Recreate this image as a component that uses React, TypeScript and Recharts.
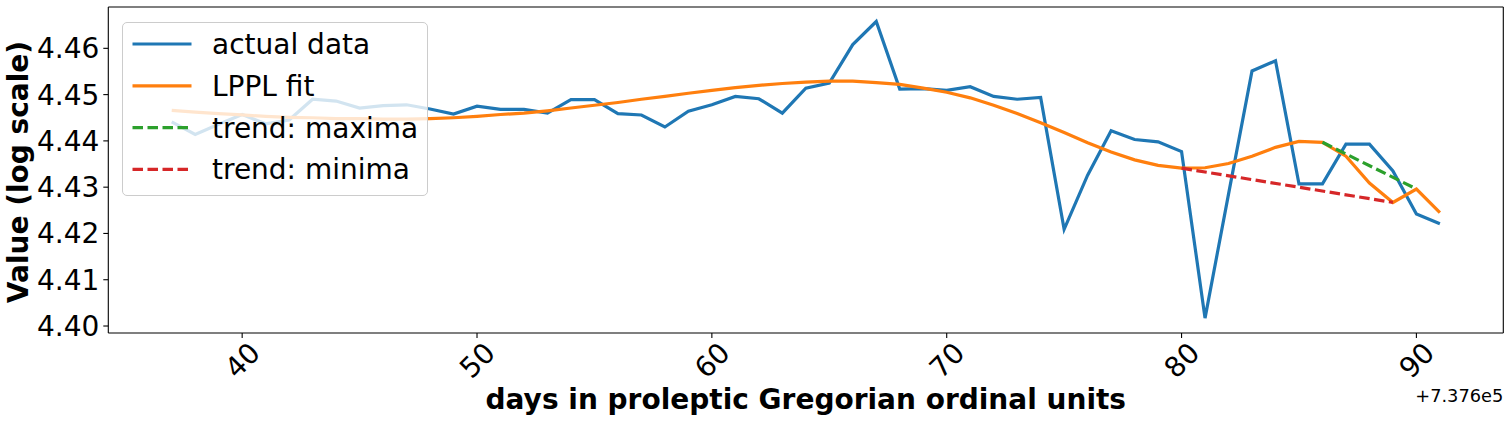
import React from 'react';
import { LineChart, Line, XAxis, YAxis, Legend, ReferenceLine } from 'recharts';

const FONT = "'DejaVu Sans', 'Liberation Sans', sans-serif";

// x values are days relative to the offset 7.376e5 (proleptic Gregorian ordinal)
const OFFSET_LABEL = '+7.376e5';
const days = [
  37, 38, 39, 40, 41, 42, 43, 44, 45, 46, 47, 48, 49, 50, 51, 52, 53, 54, 55,
  56, 57, 58, 59, 60, 61, 62, 63, 64, 65, 66, 67, 68, 69, 70, 71, 72, 73, 74,
  75, 76, 77, 78, 79, 80, 81, 82, 83, 84, 85, 86, 87, 88, 89, 90, 91,
];
const actualData = [
  4.4441, 4.4414, 4.4436, 4.4457, 4.4437, 4.4445, 4.449, 4.4486, 4.4471, 4.4476,
  4.4478, 4.4469, 4.4458, 4.4475, 4.4468, 4.4468, 4.446, 4.4489, 4.4489, 4.4459,
  4.4456, 4.443, 4.4464, 4.4478, 4.4496, 4.4491, 4.446, 4.4514, 4.4525, 4.4608,
  4.4658, 4.4512, 4.4513, 4.4509, 4.4517, 4.4496, 4.449, 4.4494, 4.4209, 4.4326,
  4.4422, 4.4403, 4.4398, 4.4377, 4.4017, 4.4285, 4.4551, 4.4573, 4.4307, 4.4307,
  4.4393, 4.4393, 4.4335, 4.4242, 4.4221,
];
const lpplFit = [
  4.4466, 4.4462, 4.4459, 4.4456, 4.4453, 4.4451, 4.445, 4.4448, 4.4448, 4.4447,
  4.4447, 4.4448, 4.445, 4.4453, 4.4457, 4.446, 4.4465, 4.4471, 4.4477, 4.4483,
  4.449, 4.4496, 4.4503, 4.4509, 4.4515, 4.452, 4.4524, 4.4527, 4.4529, 4.4529,
  4.4526, 4.4522, 4.4514, 4.4505, 4.4493, 4.4477, 4.4459, 4.4439, 4.4418, 4.4396,
  4.4376, 4.4359, 4.4347, 4.4341, 4.4342, 4.4351, 4.4367, 4.4386, 4.4399, 4.4397,
  4.4367, 4.4309, 4.4267, 4.4296, 4.4245,
];
const trendMaxDays = [86, 90];
const trendMaxValues = [4.4397, 4.4296];
const trendMinDays = [80, 89];
const trendMinValues = [4.4341, 4.4267];

const xDomain = [34.3, 93.7];
const yDomain = [4.39849, 4.46893];
const xTicks = [40, 50, 60, 70, 80, 90];
const yTicks = [4.4, 4.41, 4.42, 4.43, 4.44, 4.45, 4.46];

const series = [
  { key: 'actual', name: 'actual data', color: '#1f77b4', dash: undefined as string | undefined },
  { key: 'fit', name: 'LPPL fit', color: '#ff7f0e', dash: undefined as string | undefined },
  { key: 'trendMax', name: 'trend: maxima', color: '#2ca02c', dash: '10.5 4.5' },
  { key: 'trendMin', name: 'trend: minima', color: '#d62728', dash: '10.5 4.5' },
];

const table = days.map((d, i) => {
  const mi = trendMaxDays.indexOf(d);
  const ni = trendMinDays.indexOf(d);
  return {
    day: d,
    actual: actualData[i],
    fit: lpplFit[i],
    trendMax: mi >= 0 ? trendMaxValues[mi] : null,
    trendMin: ni >= 0 ? trendMinValues[ni] : null,
  };
});

const XTick = (props: any) => {
  const { x, y, payload } = props;
  const cy = y + 22;
  return (
    <text
      x={x}
      y={cy}
      dy="0.36em"
      textAnchor="middle"
      transform={`rotate(-45 ${x} ${cy})`}
      fontSize={28}
      fontFamily={FONT}
      fill="#000"
    >
      {String(payload.value)}
    </text>
  );
};

const LegendBox = (props: any) => {
  const payload: any[] = props.payload || [];
  const W = 306;
  const H = 174;
  const names = payload.map((p: any) => p.value);
  const rows = series.filter((s) => names.length === 0 || names.includes(s.name));
  return (
    <div
      style={{
        width: W,
        height: H,
        boxSizing: 'border-box',
        background: 'rgba(255,255,255,0.8)',
        border: '1px solid #cccccc',
        borderRadius: 5,
        position: 'relative',
      }}
    >
      <svg width={W} height={H} style={{ position: 'absolute', left: -1, top: -1 }}>
        {rows.map((s, i) => {
          const cy = 22 + i * 41.8;
          return (
            <g key={s.key}>
              <line
                x1={10.5}
                x2={69.5}
                y1={cy}
                y2={cy}
                stroke={s.color}
                strokeWidth={3.2}
                strokeDasharray={s.dash}
              />
              <text x={90} y={cy} dy="0.36em" fontSize={28} fontFamily={FONT} fill="#000">
                {s.name}
              </text>
            </g>
          );
        })}
      </svg>
    </div>
  );
};

export default function App() {
  return (
    <div style={{ position: 'absolute', left: 0, top: 0, width: 1510, height: 424, background: '#fff' }}>
      <LineChart
        width={1510}
        height={424}
        data={table}
        margin={{ top: 7, right: 6.7, bottom: 0, left: 0 }}
      >
        <XAxis
          dataKey="day"
          type="number"
          domain={xDomain}
          allowDataOverflow
          ticks={xTicks}
          height={91}
          tickSize={5}
          tickMargin={0}
          axisLine={{ stroke: '#000', strokeWidth: 1.1 }}
          tickLine={{ stroke: '#000', strokeWidth: 1.1 }}
          tick={<XTick />}
          interval={0}
          label={{
            content: (lp: any) => {
              const vb = lp.viewBox || { x: 108.3, y: 333, width: 1395, height: 91 };
              return (
                <g>
                  <text
                    x={vb.x + vb.width / 2}
                    y={409}
                    textAnchor="middle"
                    fontSize={28}
                    fontWeight="bold"
                    fontFamily={FONT}
                    fill="#000"
                  >
                    days in proleptic Gregorian ordinal units
                  </text>
                  <text
                    x={vb.x + vb.width}
                    y={401.5}
                    textAnchor="end"
                    fontSize={17.8}
                    fontFamily={FONT}
                    fill="#000"
                  >
                    {OFFSET_LABEL}
                  </text>
                </g>
              );
            },
          }}
        />
        <YAxis
          type="number"
          domain={yDomain}
          allowDataOverflow
          ticks={yTicks}
          width={108.3}
          tickSize={5}
          tickMargin={4}
          interval={0}
          tickFormatter={(v: number) => v.toFixed(2)}
          tick={{ fill: '#000', fontSize: 28, fontFamily: FONT }}
          axisLine={{ stroke: '#000', strokeWidth: 1.1 }}
          tickLine={{ stroke: '#000', strokeWidth: 1.1 }}
          label={{
            content: () => (
              <text
                x={28}
                y={172}
                transform="rotate(-90 28 172)"
                textAnchor="middle"
                fontSize={28}
                fontWeight="bold"
                fontFamily={FONT}
                fill="#000"
              >
                Value (log scale)
              </text>
            ),
          }}
        />
        <ReferenceLine y={yDomain[1]} stroke="#000" strokeWidth={1.1} ifOverflow="visible" />
        <ReferenceLine x={xDomain[1]} stroke="#000" strokeWidth={1.1} ifOverflow="visible" />
        {series.map((s) => (
          <Line
            key={s.key}
            type="linear"
            dataKey={s.key}
            name={s.name}
            stroke={s.color}
            strokeWidth={3.2}
            strokeDasharray={s.dash}
            dot={false}
            activeDot={false}
            connectNulls
            isAnimationActive={false}
          />
        ))}
        <Legend
          layout="vertical"
          align="center"
          verticalAlign="middle"
          width={306}
          height={174}
          wrapperStyle={{ top: 22.3, left: 122.3, width: 306, height: 174 }}
          content={<LegendBox />}
        />
      </LineChart>
    </div>
  );
}
